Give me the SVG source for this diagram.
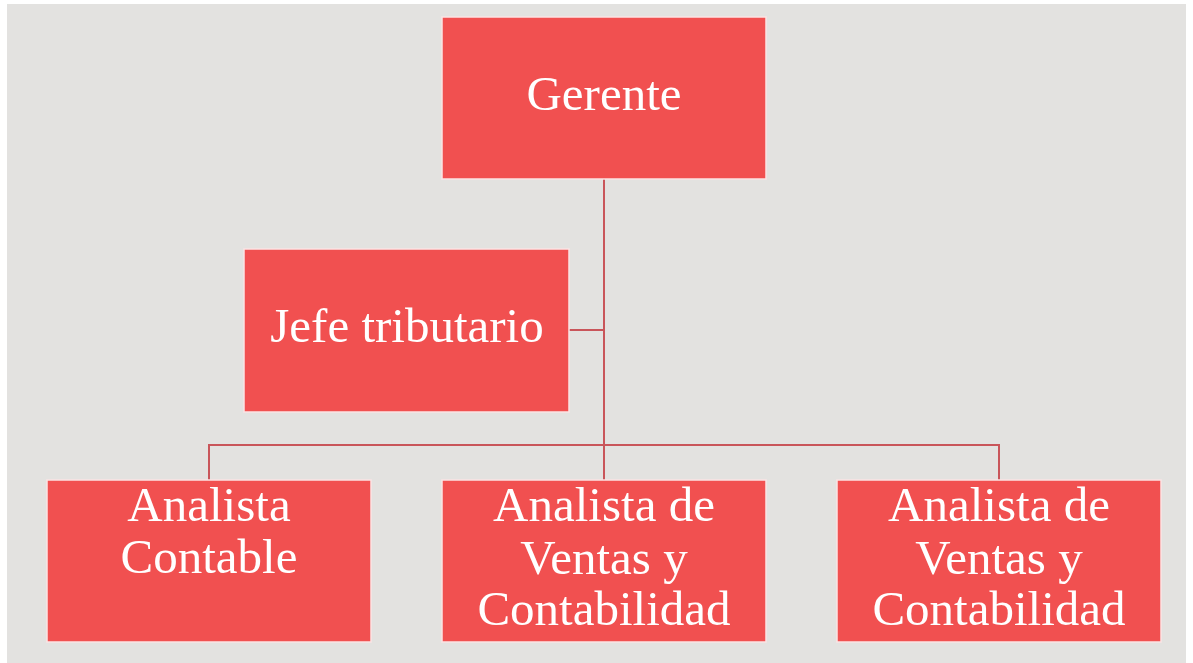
<svg xmlns="http://www.w3.org/2000/svg" width="1193" height="663" viewBox="0 0 1193 663">
<style>
.box{fill:#f15050;stroke:#fbe4e4;stroke-width:1.5}
.t{fill:#ffffff;font-family:"Liberation Serif",serif;font-size:49px;text-anchor:middle}
.c{fill:none;stroke:#c9555a;stroke-width:2}
</style>
<rect x="0" y="0" width="1193" height="663" fill="#ffffff"/>
<rect x="7" y="4" width="1179" height="659" fill="#e3e2e0"/>
<g id="connectors">
<path class="c" d="M604 179V480"/>
<path class="c" d="M569 330H604"/>
<path class="c" d="M209 480V445H999V480"/>
</g>
<g id="gerente">
<rect class="box" x="442" y="17" width="324" height="162"/>
<text class="t" x="604" y="110">Gerente</text>
</g>
<g id="jefe">
<rect class="box" x="244" y="249" width="325" height="163"/>
<text class="t" x="407" y="342">Jefe tributario</text>
</g>
<g id="analista-contable">
<rect class="box" x="47" y="480" width="324" height="162"/>
<text class="t" x="209" y="521">Analista</text>
<text class="t" x="209" y="573">Contable</text>
</g>
<g id="analista-ventas-1">
<rect class="box" x="442" y="480" width="324" height="162"/>
<text class="t" x="604" y="521">Analista de</text>
<text class="t" x="604" y="574">Ventas y</text>
<text class="t" x="604" y="625">Contabilidad</text>
</g>
<g id="analista-ventas-2">
<rect class="box" x="837" y="480" width="324" height="162"/>
<text class="t" x="999" y="521">Analista de</text>
<text class="t" x="999" y="574">Ventas y</text>
<text class="t" x="999" y="625">Contabilidad</text>
</g>
</svg>
